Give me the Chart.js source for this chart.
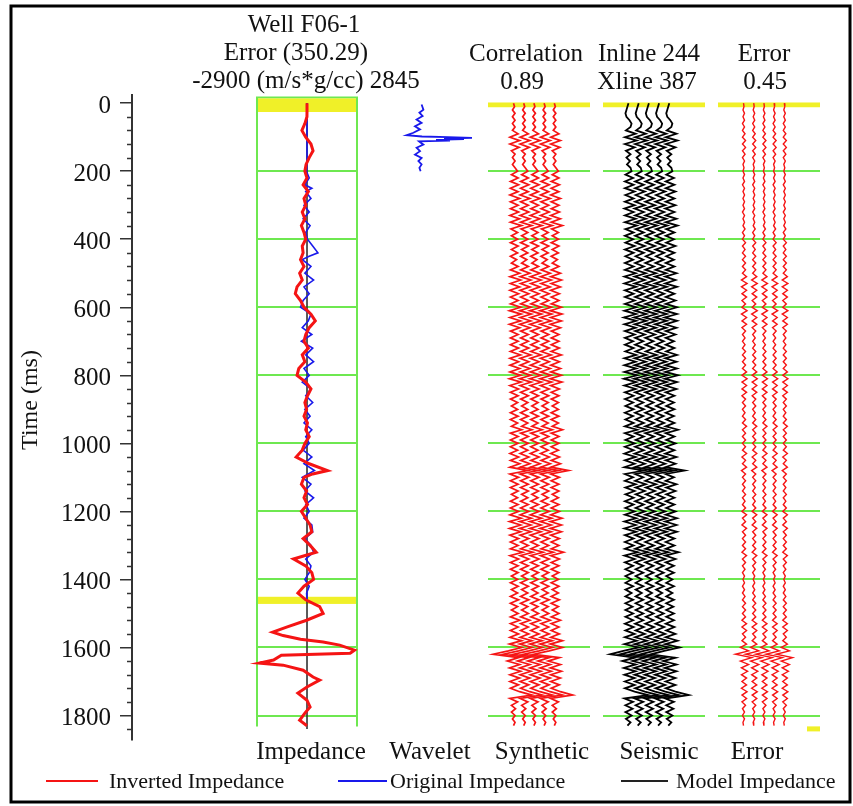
<!DOCTYPE html>
<html>
<head>
<meta charset="utf-8">
<script src="https://cdn.jsdelivr.net/npm/chart.js@4.4.0/dist/chart.umd.min.js"></script>
<style>
  body { margin: 0; background: #fff; }
  canvas { display: block; }
</style>
</head>
<body>
<canvas id="wellChart" width="853" height="806"></canvas>
<script>
// ---- data ----
const yTicks = [0, 200, 400, 600, 800, 1000, 1200, 1400, 1600, 1800];

// inverted impedance (red), m/s*g/cc
const invTimes = [0,20,40,60,80,100,120,140,160,180,200,220,240,260,280,300,320,340,360,380,
  400,420,440,460,480,500,520,540,560,580,600,620,640,660,680,700,720,740,760,780,
  800,820,840,860,880,900,920,940,960,980,1000,1020,1040,1060,1080,1090,1100,1120,1140,1160,
  1180,1200,1220,1240,1260,1280,1300,1320,1340,1360,1380,1400,1420,1440,1460,1480,1500,1520,1540,1555,
  1565,1576,1584,1593,1608,1617,1623,1637,1646,1652,1667,1687,1696,1716,1734,1755,1775,1793,1814,1830];
const invertedImp = [-27,-27,-30,-150,-320,-100,200,320,100,-80,-150,-30,-250,50,-200,-100,-300,-150,-350,-200,
  -100,-300,-250,-400,-200,-450,-300,-600,-700,-400,-200,200,450,100,-100,-200,50,-300,-150,-500,
  -600,-100,200,0,-150,-50,-200,0,-100,100,-150,-300,-650,100,1150,300,-200,-350,-50,-200,
  0,-350,-100,150,250,-250,150,500,-800,-100,250,350,-200,-550,-100,700,900,-50,-1200,-2000,
  -1400,-400,900,1850,2700,2450,-1500,-1950,-2750,-1400,-250,320,700,-30,-550,-30,150,-150,-450,-30];

// original impedance (blue)
const origTimes = [0,100,180,200,220,240,250,260,280,300,320,340,360,380,400,420,440,450,460,480,
  500,520,540,560,580,600,620,640,660,680,700,720,740,760,780,800,820,840,860,880,
  900,920,940,960,980,1000,1020,1040,1060,1080,1100,1120,1140,1160,1180,1200,1220,1240,1260,1280,
  1300,1320,1340,1360,1380,1400,1420,1440,1460];
const originalImp = [-27,-27,-27,-60,100,-150,250,-100,200,-200,100,-250,150,-100,0,300,600,100,-300,200,
  -150,350,-200,100,-250,-400,200,50,-300,250,-350,300,-100,350,-200,100,-300,200,-100,300,
  -150,150,-200,250,-100,100,-250,250,-200,400,-300,200,-150,350,-100,100,-200,250,300,-150,
  200,350,-100,200,100,-150,100,-50,-30];

// model impedance (black)
const modelTimes = [0, 1840];
const modelImp = [-27, -27];

// wavelet (blue)
const waveletTimes = [4,19,28,38,48,58,68,77,87,94,98,100,102,104,106,108,110,112,122,131,141,151,161,170,180,190,200];
const waveletAmp = [0.08,0.17,-0.03,0.13,-0.17,0.08,-0.25,0,-0.33,-0.67,0.1,1.4,2.6,1.2,2.2,0.8,1.5,-0.05,0.17,-0.17,0,-0.25,0.08,-0.08,0.08,-0.03,0.03];

// traces, one sample every 10 ms from 0 ms
const SAMPLE_MS = 10;
const synthetic = [
  0, 0.1, -0.1, 0.15, -0.1, 0.15, -0.1, 0.15, -0.1, 0.45,
  -0.35, 0.6, -0.35, 0.55, -0.2, 0.15, -0.1, 0.15, -0.1, 0.15,
  0.4, -0.2, 0.45, -0.3, 0.5, -0.3, 0.45, -0.35, 0.6, -0.3,
  0.45, -0.3, 0.5, -0.35, 0.6, -0.3, 0.8, -0.25, 0.4, -0.2,
  0.4, -0.3, 0.45, -0.2, 0.4, -0.3, 0.3, -0.2, 0.45, -0.3,
  0.6, -0.35, 0.7, -0.3, 0.6, -0.35, 0.5, -0.3, 0.45, -0.3,
  0.7, -0.4, 0.75, -0.35, 0.7, -0.4, 0.6, -0.3, 0.45, -0.3,
  0.45, -0.3, 0.5, -0.3, 0.7, -0.35, 0.5, -0.35, 0.6, -0.35,
  0.7, -0.4, 0.75, -0.35, 0.5, -0.3, 0.45, -0.3, 0.4, -0.2,
  0.4, -0.3, 0.45, -0.3, 0.4, -0.2, 0.8, -0.3, 0.45, -0.3,
  0.45, -0.3, 0.4, -0.35, 0.5, -0.3, 0.6, -0.35, 1.4, -0.35,
  0.5, -0.3, 0.45, -0.3, 0.45, -0.2, 0.4, -0.3, 0.45, -0.3,
  0.5, -0.35, 0.75, -0.4, 0.7, -0.4, 0.7, -0.35, 0.5, -0.3,
  0.45, -0.3, 0.9, -0.35, 0.5, -0.3, 0.45, -0.3, 0.45, -0.2,
  0.4, -0.3, 0.45, -0.2, 0.4, -0.3, 0.5, -0.3, 0.4, -0.2,
  0.45, -0.3, 0.6, -0.3, 0.45, -0.3, 0.5, -0.35, 0.8, -0.4,
  0.8, -0.5, -2.0, 0.5, -0.6, 0.6, -0.4, 0.7, -0.35, 0.6,
  -0.35, 0.5, -0.3, 0.6, 1.8, -0.35, 0.4, -0.2, 0.2, -0.2,
  0.15, -0.1, 0.15, 0
];
const seismic = [
  0, -0.1, -0.2, -0.3, -0.2, 0.1, 0.3, 0.2, -0.25, 0.7,
  -0.35, 0.8, -0.35, 0.6, -0.25, 0.2, -0.2, 0.15, -0.15, 0.2,
  0.3, -0.3, 0.45, -0.35, 0.5, -0.35, 0.6, -0.3, 0.5, -0.35,
  0.6, -0.4, 0.5, -0.35, 0.7, -0.35, 0.8, -0.3, 0.5, -0.35,
  0.45, -0.3, 0.6, -0.35, 0.5, -0.3, 0.45, -0.35, 0.5, -0.35,
  0.7, -0.4, 0.6, -0.4, 0.75, -0.35, 0.5, -0.35, 0.6, -0.35,
  0.75, -0.4, 0.75, -0.45, 0.75, -0.4, 0.7, -0.35, 0.6, -0.35,
  0.45, -0.35, 0.5, -0.3, 0.75, -0.4, 0.7, -0.4, 0.75, -0.4,
  0.85, -0.45, 0.75, -0.4, 0.7, -0.35, 0.5, -0.35, 0.45, -0.3,
  0.5, -0.35, 0.45, -0.3, 0.5, -0.35, 0.85, -0.35, 0.5, -0.3,
  0.6, -0.35, 0.5, -0.4, 0.7, -0.35, 0.6, -0.4, 1.5, -0.35,
  0.45, -0.35, 0.7, -0.3, 0.6, -0.3, 0.5, -0.35, 0.5, -0.3,
  0.6, -0.35, 0.75, -0.4, 0.7, -0.4, 0.75, -0.35, 0.5, -0.35,
  0.5, -0.35, 0.9, -0.4, 0.6, -0.35, 0.45, -0.3, 0.45, -0.3,
  0.3, -0.3, 0.45, -0.3, 0.3, -0.3, 0.45, -0.3, 0.4, -0.3,
  0.45, -0.3, 0.45, -0.35, 0.5, -0.3, 0.6, -0.35, 0.8, -0.4,
  1.0, -0.5, -1.8, 0.6, -0.6, 0.7, -0.45, 0.7, -0.4, 0.6,
  -0.35, 0.6, -0.35, 0.6, 1.9, -0.4, 0.45, -0.3, 0.4, -0.3,
  0.3, -0.25, 0.2, -0.1
];
const errorTrace = [
  0, 0.05, -0.05, 0.1, -0.05, 0.1, -0.1, 0.1, -0.1, 0.15,
  -0.1, 0.2, -0.1, 0.2, -0.1, 0.15, -0.1, 0.1, -0.05, 0.05,
  -0.05, 0.1, -0.05, 0.1, -0.1, 0.1, -0.05, 0.1, -0.05, 0.1,
  -0.05, 0.1, -0.1, 0.1, -0.05, 0.1, -0.05, 0.15, -0.1, 0.1,
  -0.1, 0.2, -0.1, 0.15, -0.1, 0.2, -0.1, 0.2, -0.1, 0.2,
  -0.1, 0.3, -0.2, 0.35, -0.2, 0.3, -0.15, 0.3, -0.15, 0.2,
  -0.15, 0.35, -0.2, 0.3, -0.15, 0.3, -0.15, 0.2, -0.1, 0.15,
  -0.1, 0.15, -0.1, 0.2, -0.1, 0.2, -0.1, 0.2, -0.1, 0.3,
  -0.15, 0.35, -0.15, 0.3, -0.15, 0.3, -0.15, 0.2, -0.1, 0.2,
  -0.1, 0.15, -0.1, 0.2, -0.1, 0.3, -0.1, 0.2, -0.1, 0.2,
  -0.1, 0.2, -0.1, 0.3, -0.15, 0.2, -0.1, 0.3, -0.2, 0.2,
  -0.1, 0.2, -0.1, 0.15, -0.1, 0.2, -0.1, 0.15, -0.1, 0.2,
  -0.15, 0.3, -0.1, 0.2, -0.15, 0.3, -0.1, 0.2, -0.1, 0.2,
  -0.1, 0.2, -0.15, 0.3, -0.1, 0.2, -0.1, 0.15, -0.1, 0.1,
  -0.05, 0.1, -0.1, 0.1, -0.1, 0.15, -0.1, 0.2, -0.1, 0.2,
  -0.1, 0.2, -0.15, 0.3, -0.15, 0.3, -0.1, 0.2, -0.15, 0.3,
  -0.3, 0.5, -0.8, 0.8, -0.3, 0.5, -0.2, 0.4, -0.2, 0.3,
  -0.15, 0.3, -0.2, 0.35, -0.15, 0.3, -0.15, 0.2, -0.1, 0.1,
  -0.1, 0.1, -0.05, 0
];
const traceOffsets = [2.5, 3.5, 4.5, 5.5, 6.5];

// ---- layout ----
const FONT = '"Liberation Serif", "Times New Roman", serif';
const GREEN = 'rgb(110,232,80)';
const YELLOW = 'rgb(240,240,40)';
const RED = 'rgb(245,20,20)';
const BLUE = 'rgb(25,25,235)';
const AREA = { left: 132, right: 850 };

// scale min/max so that [lo, hi] lands on pixels [p0, p1]
function span(lo, hi, p0, p1) {
    const k = (hi - lo) / (p1 - p0);
    return { min: lo - (p0 - AREA.left) * k, max: lo + (AREA.right - p0) * k };
}

function xScale(lo, hi, p0, p1) {
    const s = span(lo, hi, p0, p1);
    return { type: 'linear', display: false, min: s.min, max: s.max };
}

function pts(times, vals) {
    return vals.map((v, i) => ({ x: v, y: times[i] }));
}

function tracePts(vals, off) {
    return vals.map((v, i) => ({ x: off + v, y: i * SAMPLE_MS }));
}

function line(label, data, axis, color, width) {
    return {
        label: label, data: data, xAxisID: axis, showLine: true,
        borderColor: color, backgroundColor: color, borderWidth: width,
        pointRadius: 0, tension: 0, fill: false
    };
}

const datasets = [
    line('Inverted Impedance', pts(invTimes, invertedImp), 'xImp', RED, 3),
    line('Original Impedance', pts(origTimes, originalImp), 'xImp', BLUE, 1.6),
    line('Model Impedance', pts(modelTimes, modelImp), 'xImp', '#333', 1.6),
    line('Wavelet', pts(waveletTimes, waveletAmp), 'xWav', BLUE, 1.8)
];
traceOffsets.forEach(off => {
    datasets.push(line('Synthetic', tracePts(synthetic, off), 'xSyn', RED, 1.7));
    datasets.push(line('Seismic', tracePts(seismic, off), 'xSei', '#000', 1.8));
    datasets.push(line('Error', tracePts(errorTrace, off), 'xErr', RED, 1.4));
});

const decor = {
    id: 'decor',
    beforeDatasetsDraw(chart) {
        const { ctx, scales } = chart;
        const y = scales.y;
        const imp = [scales.xImp.getPixelForValue(-2900), scales.xImp.getPixelForValue(2845)];
        const panels = ['xSyn', 'xSei', 'xErr'].map(id => [scales[id].getPixelForValue(0), scales[id].getPixelForValue(10)]);
        ctx.save();
        ctx.strokeStyle = GREEN;
        ctx.lineWidth = 2;
        [imp].concat(panels).forEach(p => {
            yTicks.slice(1).forEach(t => {
                const py = Math.round(y.getPixelForValue(t));
                ctx.beginPath(); ctx.moveTo(p[0], py); ctx.lineTo(p[1], py); ctx.stroke();
            });
        });
        // impedance box
        const top = y.getPixelForValue(-17), bot = y.getPixelForValue(1832);
        ctx.beginPath();
        ctx.moveTo(imp[0], bot); ctx.lineTo(imp[0], top); ctx.lineTo(imp[1], top); ctx.lineTo(imp[1], bot);
        ctx.stroke();
        // yellow markers
        ctx.fillStyle = YELLOW;
        const band = (x0, x1, t0, t1) => {
            const a = y.getPixelForValue(t0), b = y.getPixelForValue(t1);
            ctx.fillRect(x0, a, x1 - x0, b - a);
        };
        band(imp[0] + 1, imp[1] - 1, -14, 26);
        band(imp[0] + 1, imp[1] - 1, 1451, 1472);
        panels.forEach(p => band(p[0], p[1], -2, 12));
        ctx.restore();
    },
    afterDraw(chart) {
        const { ctx, scales } = chart;
        const y = scales.y;
        ctx.save();
        // minor ticks every 40 ms
        ctx.strokeStyle = '#333';
        ctx.lineWidth = 1.5;
        for (let t = 40; t < 1872; t += 40) {
            if (t % 200 === 0) continue;
            const py = Math.round(y.getPixelForValue(t)) + 0.5;
            ctx.beginPath(); ctx.moveTo(AREA.left - 5, py); ctx.lineTo(AREA.left, py); ctx.stroke();
        }
        // small yellow mark at the foot of the error track
        ctx.fillStyle = YELLOW;
        ctx.fillRect(807, y.getPixelForValue(1832), 13, 5);

        ctx.fillStyle = '#111';
        ctx.textAlign = 'center';
        ctx.textBaseline = 'middle';
        ctx.font = '25px ' + FONT;
        [['Well F06-1', 304, 25], ['Error (350.29)', 296, 53], ['-2900 (m/s*g/cc) 2845', 306, 81],
         ['Correlation', 526, 54], ['0.89', 522, 82],
         ['Inline 244', 649, 54], ['Xline 387', 647, 82],
         ['Error', 764, 54], ['0.45', 765, 82],
         ['Impedance', 311, 752], ['Wavelet', 430, 752], ['Synthetic', 542, 752],
         ['Seismic', 659, 752], ['Error', 757, 752]
        ].forEach(t => ctx.fillText(t[0], t[1], t[2]));

        // axis title
        ctx.save();
        ctx.translate(31, 400);
        ctx.rotate(-Math.PI / 2);
        ctx.font = '24px ' + FONT;
        ctx.fillText('Time (ms)', 0, 0);
        ctx.restore();

        // legend
        ctx.font = '22px ' + FONT;
        ctx.textAlign = 'left';
        ctx.lineWidth = 2;
        [[RED, 46, 98, 'Inverted Impedance', 109], [BLUE, 338, 387, 'Original Impedance', 390],
         ['#222', 621, 668, 'Model Impedance', 676]].forEach(l => {
            ctx.strokeStyle = l[0];
            ctx.beginPath(); ctx.moveTo(l[1], 781); ctx.lineTo(l[2], 781); ctx.stroke();
            ctx.fillText(l[3], l[4], 782);
        });

        // frame
        ctx.strokeStyle = '#000';
        ctx.lineWidth = 3;
        ctx.strokeRect(11, 6, 839, 796);
        ctx.restore();
    }
};

new Chart(document.getElementById('wellChart').getContext('2d'), {
    type: 'scatter',
    data: { datasets: datasets },
    options: {
        responsive: false,
        animation: false,
        layout: { padding: { top: 95, bottom: 66, left: 0, right: 853 - AREA.right } },
        plugins: { legend: { display: false }, tooltip: { enabled: false } },
        scales: {
            y: {
                type: 'linear', reverse: true, min: -24, max: 1872,
                afterBuildTicks: s => { s.ticks = yTicks.map(v => ({ value: v })); },
                afterFit: s => { s.width = AREA.left; },
                grid: { drawOnChartArea: false, drawTicks: true, tickLength: 12, color: '#333', lineWidth: 1.5 },
                border: { display: true, color: '#333', width: 2 },
                ticks: { color: '#111', padding: 9, labelOffset: 3, font: { family: FONT, size: 25 },
                         callback: v => String(v) }
            },
            xImp: xScale(-2900, 2845, 257, 357),
            xWav: xScale(-1, 1, 400, 440),
            xSyn: xScale(0, 10, 488, 590),
            xSei: xScale(0, 10, 603, 705),
            xErr: xScale(0, 10, 718, 820)
        }
    },
    plugins: [decor]
});
</script>
</body>
</html>
